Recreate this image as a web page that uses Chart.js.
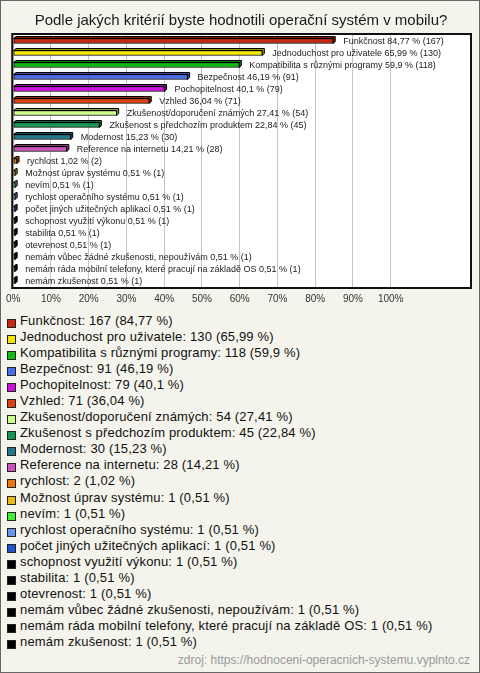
<!DOCTYPE html>
<html><head><meta charset="utf-8">
<script src="https://cdn.jsdelivr.net/npm/chart.js@4"></script>
<style>
html,body{margin:0;padding:0;background:#f4f4ec;}
body{width:480px;height:673px;position:relative;overflow:hidden;font-family:'Liberation Sans',Arial,sans-serif;}
#chart{position:absolute;left:0;top:0;}
#legend{position:absolute;left:0;top:313px;width:480px;}
.item{position:relative;height:16.05px;line-height:16px;font-size:13px;letter-spacing:0.16px;color:#111;white-space:nowrap;}
.sw{position:absolute;left:7px;top:6px;width:9px;height:9px;box-sizing:border-box;border:1px solid #222;}
.txt{position:absolute;left:20px;top:0;}
#src{position:absolute;right:10px;top:653px;font-size:12px;line-height:14px;color:#999;white-space:nowrap;}
#frame{position:absolute;left:0;top:0;width:480px;height:673px;box-sizing:border-box;border:1px solid #666;pointer-events:none;}
</style></head>
<body>
<canvas id="chart" width="480" height="312"></canvas>
<div id="legend"></div>
<div id="src">zdroj: https://hodnoceni-operacnich-systemu.vyplnto.cz</div>
<div id="frame"></div>
<script>
const chartTitle = 'Podle jakých kritérií byste hodnotili operační systém v mobilu?';
const categories = [
  'Funkčnost',
  'Jednoduchost pro uživatele',
  'Kompatibilita s různými programy',
  'Bezpečnost',
  'Pochopitelnost',
  'Vzhled',
  'Zkušenost/doporučení známých',
  'Zkušenost s předchozím produktem',
  'Modernost',
  'Reference na internetu',
  'rychlost',
  'Možnost úprav systému',
  'nevím',
  'rychlost operačního systému',
  'počet jiných užitečných aplikací',
  'schopnost využití výkonu',
  'stabilita',
  'otevrenost',
  'nemám vůbec žádné zkušenosti, nepoužívám',
  'nemám ráda mobilní telefony, které pracují na základě OS',
  'nemám zkušenost'
];
const counts = [167,130,118,91,79,71,54,45,30,28,2,1,1,1,1,1,1,1,1,1,1];
const percents = [84.77,65.99,59.9,46.19,40.1,36.04,27.41,22.84,15.23,14.21,1.02,0.51,0.51,0.51,0.51,0.51,0.51,0.51,0.51,0.51,0.51];
const xTicks = [0,10,20,30,40,50,60,70,80,90,100];
const colors = ['#c62a10','#f5e600','#11bb11','#4a6ee8','#cc11dd','#e04010','#ccff88','#119955','#227788','#cc55bb','#ee7711','#eebb11','#44ee33','#6699ee','#2255cc','#000000','#000000','#000000','#000000','#000000','#000000'];

const FONT = "'Liberation Sans', Arial, sans-serif";
const fmt = v => String(v).replace('.', ',');

function shade(hex){
  const n = parseInt(hex.slice(1),16);
  const r = Math.round(((n>>16)&255)*0.65), g = Math.round(((n>>8)&255)*0.65), b = Math.round((n&255)*0.65);
  return 'rgb('+r+','+g+','+b+')';
}

const plotBg = {
  id:'plotBg',
  beforeDraw(chart){
    const {ctx, chartArea:a} = chart;
    ctx.save(); ctx.fillStyle='#ffffff';
    ctx.fillRect(a.left, a.top, a.right-a.left, a.bottom-a.top);
    ctx.restore();
  },
  afterDraw(chart){
    const {ctx, chartArea:a} = chart;
    ctx.save(); ctx.strokeStyle='#111'; ctx.lineWidth=2;
    ctx.strokeRect(a.left-1, a.top-1, a.right-a.left+2, a.bottom-a.top+2);
    ctx.restore();
  }
};

const bar3d = {
  id:'bar3d',
  afterDatasetsDraw(chart){
    const ctx = chart.ctx; const meta = chart.getDatasetMeta(0); const d = 2;
    ctx.save(); ctx.lineWidth = 1; ctx.strokeStyle = '#000';
    meta.data.forEach((el,i)=>{
      const p = el.getProps(['x','y','base','height'], true);
      const x0 = Math.min(p.base,p.x), x1 = Math.max(p.base,p.x);
      const top = p.y - p.height/2, bot = p.y + p.height/2;
      ctx.fillStyle = shade(colors[i]);
      ctx.beginPath();
      ctx.moveTo(x0, top); ctx.lineTo(x0+d, top-d); ctx.lineTo(x1+d, top-d);
      ctx.lineTo(x1+d, bot-d); ctx.lineTo(x1, bot); ctx.lineTo(x1, top); ctx.closePath();
      ctx.fill(); ctx.stroke();
    });
    ctx.fillStyle = '#222'; ctx.font = '9px ' + FONT; ctx.textBaseline = 'middle'; ctx.textAlign = 'left';
    meta.data.forEach((el,i)=>{
      const p = el.getProps(['x','y'], true);
      ctx.fillText(categories[i] + ' ' + fmt(percents[i]) + ' % (' + counts[i] + ')', p.x + 10, p.y + 0.5);
    });
    ctx.restore();
  }
};

new Chart(document.getElementById('chart'), {
  type:'bar',
  data:{
    labels: categories,
    datasets:[{
      data: percents,
      backgroundColor: colors,
      borderColor:'#000',
      borderWidth:1,
      borderSkipped:false,
      barThickness:5
    }]
  },
  options:{
    indexAxis:'y',
    responsive:false,
    animation:false,
    devicePixelRatio:1,
    layout:{padding:{left:12,right:10,top:0,bottom:1}},
    plugins:{
      legend:{display:false},
      tooltip:{enabled:false},
      title:{display:true,text:chartTitle,color:'#1a1a1a',font:{family:FONT,size:15,weight:'normal'},padding:{top:12,bottom:5}}
    },
    scales:{
      x:{
        type:'linear', min:0, max:121,
        afterBuildTicks(scale){ scale.ticks = xTicks.map(v=>({value:v})); },
        grid:{color:'#c4c4c4',drawTicks:false,lineWidth:1},
        border:{display:false},
        ticks:{color:'#333',font:{family:FONT,size:10},padding:6,callback:v=>v+'%',maxRotation:0,autoSkip:false}
      },
      y:{display:false, grid:{display:false}}
    }
  },
  plugins:[plotBg, bar3d]
});

const leg = document.getElementById('legend');
categories.forEach((c,i)=>{
  const it = document.createElement('div'); it.className='item';
  const sw = document.createElement('span'); sw.className='sw'; sw.style.background = colors[i];
  const tx = document.createElement('span'); tx.className='txt';
  tx.textContent = c + ': ' + counts[i] + ' (' + fmt(percents[i]) + ' %)';
  it.appendChild(sw); it.appendChild(tx); leg.appendChild(it);
});
</script>
</body></html>
